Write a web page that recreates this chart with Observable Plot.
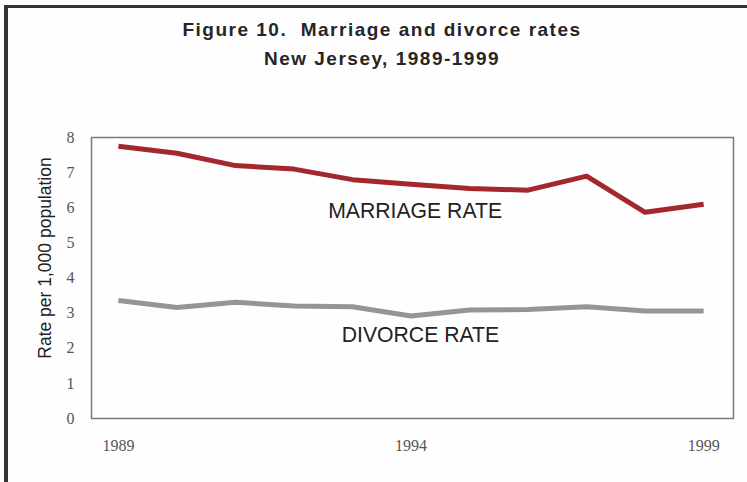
<!DOCTYPE html>
<html>
<head>
<meta charset="utf-8">
<script src="https://cdn.jsdelivr.net/npm/d3@7"></script>
<script src="https://cdn.jsdelivr.net/npm/@observablehq/plot@0.6"></script>
<style>
  html, body { margin: 0; padding: 0; background: #ffffff; }
  #wrap { position: relative; width: 747px; height: 482px; overflow: hidden; background: #fefefe; }
  #border { position: absolute; left: 4px; top: 5px; width: 760px; height: 490px;
            border-top: 3px solid #333; border-left: 4px solid #333; box-sizing: border-box; }
  .title { position: absolute; left: 0; width: 764px; text-align: center;
           font-family: "Liberation Sans", Arial, sans-serif; font-weight: bold;
           font-size: 19px; line-height: 19px; color: #262626; white-space: pre; letter-spacing: 1.5px; }
  #chart { position: absolute; left: 0; top: 0; }
</style>
</head>
<body>
<div id="wrap">
  <div id="chart"></div>
  <div id="border"></div>
  <div class="title" style="top:20px">Figure 10.  Marriage and divorce rates</div>
  <div class="title" style="top:49px">New Jersey, 1989-1999</div>
</div>
<script>
const years = [1989, 1990, 1991, 1992, 1993, 1994, 1995, 1996, 1997, 1998, 1999];
const marriageRate = [7.75, 7.55, 7.2, 7.1, 6.8, 6.67, 6.55, 6.5, 6.9, 5.87, 6.1];
const divorceRate = [3.36, 3.16, 3.31, 3.2, 3.18, 2.92, 3.09, 3.1, 3.18, 3.06, 3.06];
const xTicks = [1989, 1994, 1999];
const yTicks = [0, 1, 2, 3, 4, 5, 6, 7, 8];
const seriesLabels = ["MARRIAGE RATE", "DIVORCE RATE"];
const labelX = [1994.07, 1994.16];
const labelY = [5.89, 2.36];
const yTitle = "Rate per 1,000 population";

const marriage = years.map((y, i) => ({year: y, rate: marriageRate[i]}));
const divorce = years.map((y, i) => ({year: y, rate: divorceRate[i]}));
const labels = seriesLabels.map((t, i) => ({text: t, x: labelX[i], y: labelY[i]}));

const chart = Plot.plot({
  width: 747,
  height: 482,
  marginLeft: 91,
  marginRight: 14,
  marginTop: 137,
  marginBottom: 64,
  style: {background: "transparent", fontFamily: "'Liberation Serif', 'Times New Roman', serif"},
  x: {type: "linear", domain: [1988.54, 1999.51], ticks: xTicks, tickFormat: d => String(d), tickSize: 0, tickPadding: 21, label: null},
  y: {domain: [0, 8], ticks: yTicks, tickSize: 0, tickPadding: 17, label: null},
  marks: [
    Plot.frame({stroke: "#7a7a7a", strokeWidth: 1.5}),
    Plot.axisX({ticks: xTicks, tickFormat: d => String(d), tickSize: 0, tickPadding: 21, fontSize: 16, fill: "#555", label: null}),
    Plot.axisY({ticks: yTicks, tickSize: 0, tickPadding: 17, fontSize: 16, fill: "#555", label: null}),
    Plot.line(divorce, {x: "year", y: "rate", stroke: "#959595", strokeWidth: 5, strokeLinejoin: "round", strokeLinecap: "butt"}),
    Plot.line(marriage, {x: "year", y: "rate", stroke: "#a3282d", strokeWidth: 5, strokeLinejoin: "round", strokeLinecap: "butt"}),
    Plot.text(labels, {x: "x", y: "y", text: "text", fontSize: 21.2, fill: "#222", fontFamily: "'Liberation Sans', Arial, sans-serif", textAnchor: "middle"}),
    Plot.text([yTitle], {frameAnchor: "left", textAnchor: "middle", rotate: -90, dx: -46, dy: -20, fontSize: 17.5, fill: "#222", fontFamily: "'Liberation Sans', Arial, sans-serif"})
  ]
});
document.getElementById("chart").appendChild(chart);
</script>
</body>
</html>
